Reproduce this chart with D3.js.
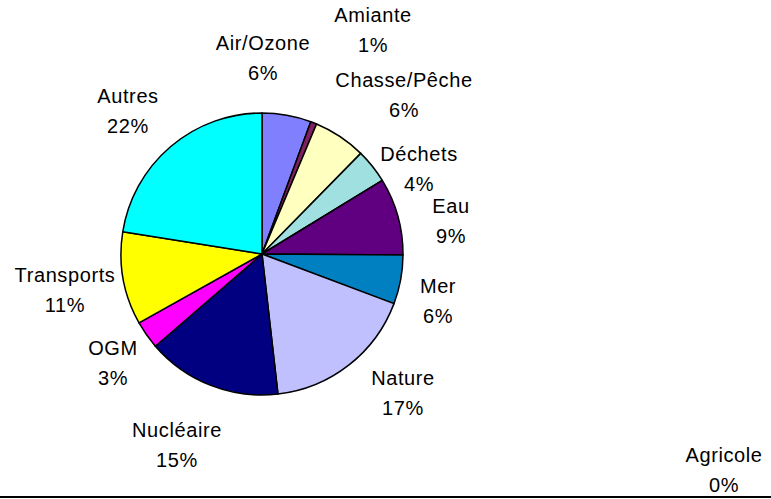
<!DOCTYPE html>
<html>
<head>
<meta charset="utf-8">
<script src="https://cdn.jsdelivr.net/npm/d3@7"></script>
<style>
  html, body { margin: 0; padding: 0; background: #fff; }
  svg { display: block; }
  text { font-family: "Liberation Sans", Arial, sans-serif; font-size: 20px; fill: #000; }
</style>
</head>
<body>
<svg id="chart" width="771" height="499"></svg>
<script>
// ---- data ----
const categories = ["Agricole", "Air/Ozone", "Amiante", "Chasse/Pêche", "Déchets", "Eau", "Mer",
                    "Nature", "Nucléaire", "OGM", "Transports", "Autres"];
const values = [0, 5.6, 0.7, 6.0, 3.9, 8.8, 5.6, 17.4, 15.4, 3.2, 10.6, 22.4];
const colors = ["#9999FF", "#8080FF", "#802060", "#FFFFC0", "#A0E0E0", "#600080", "#0080C0",
                "#C0C0FF", "#000080", "#FF00FF", "#FFFF00", "#00FFFF"];

// ---- layout (label placement as in the original, label centre x / first baseline y) ----
const labelLayout = {
  "Agricole": [724, 462], "Air/Ozone": [263, 50], "Amiante": [373, 22], "Chasse/Pêche": [404, 87],
  "Déchets": [419, 161], "Eau": [451, 213], "Mer": [438, 293], "Nature": [403, 385],
  "Nucléaire": [177, 437], "OGM": [113, 355], "Transports": [65, 282], "Autres": [128, 103]
};
const cx = 262, cy = 254, radius = 141, lineGap = 30;

const svg = d3.select("#chart");
const total = d3.sum(values);
const data = categories.map((c, i) => ({ name: c, value: values[i], color: colors[i] }));

const pie = d3.pie().sort(null).value(d => d.value);
const arc = d3.arc().innerRadius(0).outerRadius(radius);

const g = svg.append("g").attr("transform", `translate(${cx},${cy})`);
g.selectAll("path")
  .data(pie(data).filter(d => d.data.value > 0))
  .join("path")
  .attr("d", arc)
  .attr("fill", d => d.data.color)
  .attr("stroke", "#000")
  .attr("stroke-width", 1.5)
  .attr("stroke-linejoin", "round");

const fmt = v => Math.round(v / total * 100) + "%";
const lab = svg.append("g");
data.forEach(d => {
  const [x, y] = labelLayout[d.name];
  const t = lab.append("text").attr("text-anchor", "middle").attr("letter-spacing", "0.6px");
  t.append("tspan").attr("x", x).attr("y", y).text(d.name);
  t.append("tspan").attr("x", x).attr("y", y + lineGap).text(fmt(d.value));
});

// bottom border line
svg.append("line")
  .attr("x1", 0).attr("x2", 771).attr("y1", 497).attr("y2", 497)
  .attr("stroke", "#000").attr("stroke-width", 2);
</script>
</body>
</html>
